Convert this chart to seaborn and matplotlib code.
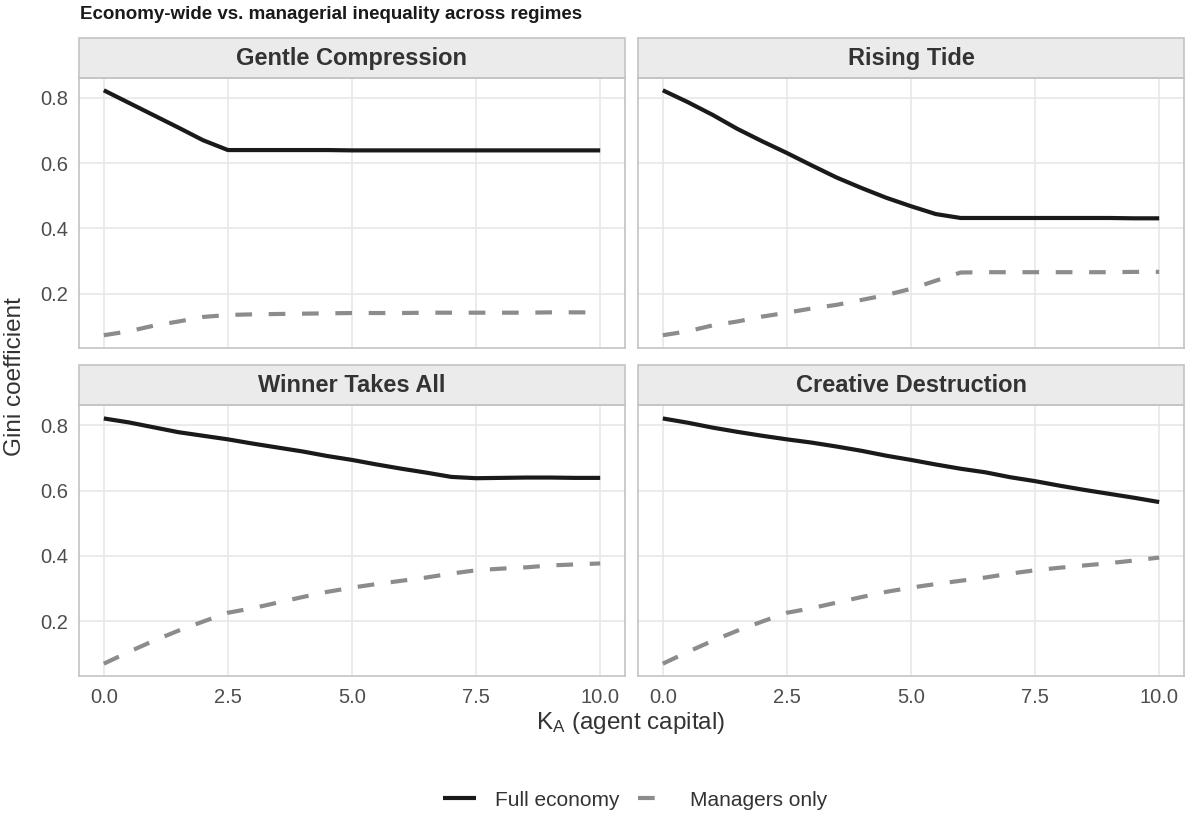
import numpy as np
import pandas as pd
import matplotlib
matplotlib.use("Agg")
import matplotlib.pyplot as plt
from matplotlib.patches import Rectangle
import seaborn as sns

# Data
k_a = [0.0, 0.5, 1.0, 1.5, 2.0, 2.5, 3.0, 3.5, 4.0, 4.5, 5.0,
       5.5, 6.0, 6.5, 7.0, 7.5, 8.0, 8.5, 9.0, 9.5, 10.0]

regimes = ['Gentle Compression', 'Rising Tide', 'Winner Takes All', 'Creative Destruction']
series_names = ['Full economy', 'Managers only']

gentle_full = [0.823, 0.785, 0.747, 0.709, 0.670, 0.640, 0.640, 0.640, 0.640, 0.640, 0.639,
               0.639, 0.639, 0.639, 0.639, 0.639, 0.639, 0.639, 0.639, 0.639, 0.639]
gentle_mgr = [0.073, 0.085, 0.102, 0.115, 0.129, 0.135, 0.137, 0.138, 0.139, 0.140, 0.141,
              0.141, 0.141, 0.142, 0.142, 0.142, 0.142, 0.142, 0.143, 0.143, 0.143]

rising_full = [0.823, 0.787, 0.748, 0.705, 0.667, 0.631, 0.593, 0.556, 0.524, 0.494, 0.468,
               0.444, 0.432, 0.432, 0.432, 0.432, 0.432, 0.432, 0.432, 0.431, 0.431]
rising_mgr = [0.073, 0.085, 0.103, 0.115, 0.130, 0.142, 0.155, 0.166, 0.181, 0.196, 0.215,
              0.240, 0.265, 0.266, 0.266, 0.266, 0.266, 0.266, 0.266, 0.267, 0.267]

winner_full = [0.821, 0.809, 0.794, 0.779, 0.768, 0.757, 0.744, 0.732, 0.720, 0.706, 0.694,
               0.680, 0.667, 0.655, 0.642, 0.638, 0.639, 0.640, 0.640, 0.639, 0.639]
winner_mgr = [0.070, 0.106, 0.140, 0.171, 0.199, 0.226, 0.240, 0.257, 0.274, 0.290, 0.303,
              0.314, 0.324, 0.334, 0.346, 0.356, 0.361, 0.365, 0.371, 0.374, 0.377]

creative_full = [0.821, 0.808, 0.793, 0.780, 0.768, 0.757, 0.747, 0.735, 0.722, 0.707, 0.694,
                 0.680, 0.667, 0.656, 0.641, 0.629, 0.615, 0.602, 0.590, 0.578, 0.565]
creative_mgr = [0.070, 0.106, 0.140, 0.171, 0.199, 0.226, 0.240, 0.257, 0.274, 0.290, 0.303,
                0.314, 0.324, 0.334, 0.346, 0.356, 0.364, 0.371, 0.378, 0.386, 0.395]

x_ticks = [0.0, 2.5, 5.0, 7.5, 10.0]
x_tick_labels = ['0.0', '2.5', '5.0', '7.5', '10.0']
y_ticks = [0.2, 0.4, 0.6, 0.8]
y_tick_labels = ['0.2', '0.4', '0.6', '0.8']

values = {
    'Gentle Compression': (gentle_full, gentle_mgr),
    'Rising Tide': (rising_full, rising_mgr),
    'Winner Takes All': (winner_full, winner_mgr),
    'Creative Destruction': (creative_full, creative_mgr),
}

rows = []
for reg in regimes:
    for name, vals in zip(series_names, values[reg]):
        for k, g in zip(k_a, vals):
            rows.append({'regime': reg, 'series': name, 'K_A': k, 'gini': g})
df = pd.DataFrame(rows)

# Style
sns.set_theme(style="whitegrid")
plt.rcParams['font.family'] = ['Liberation Sans', 'DejaVu Sans']
plt.rcParams['mathtext.default'] = 'regular'
plt.rcParams['lines.solid_capstyle'] = 'butt'
plt.rcParams['lines.dash_capstyle'] = 'butt'

palette = {'Full economy': '#1a1a1a', 'Managers only': '#8c8c8c'}
dash_map = {'Full economy': '', 'Managers only': (4, 4)}

W, H = 1195, 818
fig, axes = plt.subplots(2, 2, figsize=(W / 100, H / 100), dpi=100, sharex=True, sharey=True)
panel_h = 270.5
fig.subplots_adjust(left=79 / W, right=1184 / W, top=1 - 78 / H, bottom=1 - 676 / H,
                    wspace=13 / 546, hspace=57 / panel_h)

ymin, ymax = df['gini'].min(), df['gini'].max()
pad = (ymax - ymin) * 0.05
strip_h = 40 / panel_h

for i, (ax, reg) in enumerate(zip(axes.flat, regimes)):
    sub = df[df['regime'] == reg]
    sns.lineplot(data=sub, x='K_A', y='gini', hue='series', style='series',
                 hue_order=series_names, style_order=series_names,
                 palette=palette, dashes=dash_map, linewidth=3.0,
                 ax=ax, legend=(i == 0))
    ax.set_xlim(-0.5, 10.5)
    ax.set_ylim(ymin - pad, ymax + pad)
    ax.set_xticks(x_ticks)
    ax.set_yticks(y_ticks)
    ax.set_xlabel('')
    ax.set_ylabel('')
    ax.grid(True, color='#e6e6e6', linewidth=1.1)
    ax.set_facecolor('white')
    for sp in ax.spines.values():
        sp.set_color('#c4c4c4')
        sp.set_linewidth(1.2)
    ax.tick_params(axis='both', length=2.5, width=0.9, color='#b3b3b3',
                   labelsize=14.5, labelcolor='#4d4d4d', pad=5)
    ax.tick_params(axis='x', pad=6)
    if i % 2 == 1:
        ax.tick_params(axis='y', length=0)
    if i < 2:
        ax.tick_params(axis='x', length=0)
    # facet strip
    ax.add_patch(Rectangle((0, 1), 1, strip_h, transform=ax.transAxes, clip_on=False,
                           facecolor='#ebebeb', edgecolor='#c4c4c4', linewidth=1.2))
    ax.text(0.5, 1 + strip_h / 2, reg, transform=ax.transAxes, ha='center', va='center',
            fontsize=17, fontweight='bold', color='#333333')

axes[1, 0].set_xticklabels(x_tick_labels)
axes[1, 1].set_xticklabels(x_tick_labels)
axes[0, 0].set_yticklabels(y_tick_labels)
axes[1, 0].set_yticklabels(y_tick_labels)

handles, labels = axes[0, 0].get_legend_handles_labels()
axes[0, 0].get_legend().remove()
leg = fig.legend(handles, labels, loc='center', bbox_to_anchor=(635 / W, 1 - 800 / H),
                 ncol=2, frameon=False, fontsize=15, handlelength=1.6,
                 handletextpad=0.9, columnspacing=0.9)
for t in leg.get_texts():
    t.set_color('#333333')

fig.text(80 / W, 1 - 19 / H, 'Economy-wide vs. managerial inequality across regimes',
         ha='left', va='baseline', fontsize=13.5, fontweight='bold', color='#1a1a1a')
fig.text(631 / W, 1 - 723 / H, r'K$_{A}$ (agent capital)', ha='center', va='center',
         fontsize=17.5, color='#333333')
fig.text(15 / W, 1 - 377 / H, 'Gini coefficient', ha='center', va='center',
         rotation=90, fontsize=17.5, color='#333333')

fig.savefig('out.png', dpi=100)
